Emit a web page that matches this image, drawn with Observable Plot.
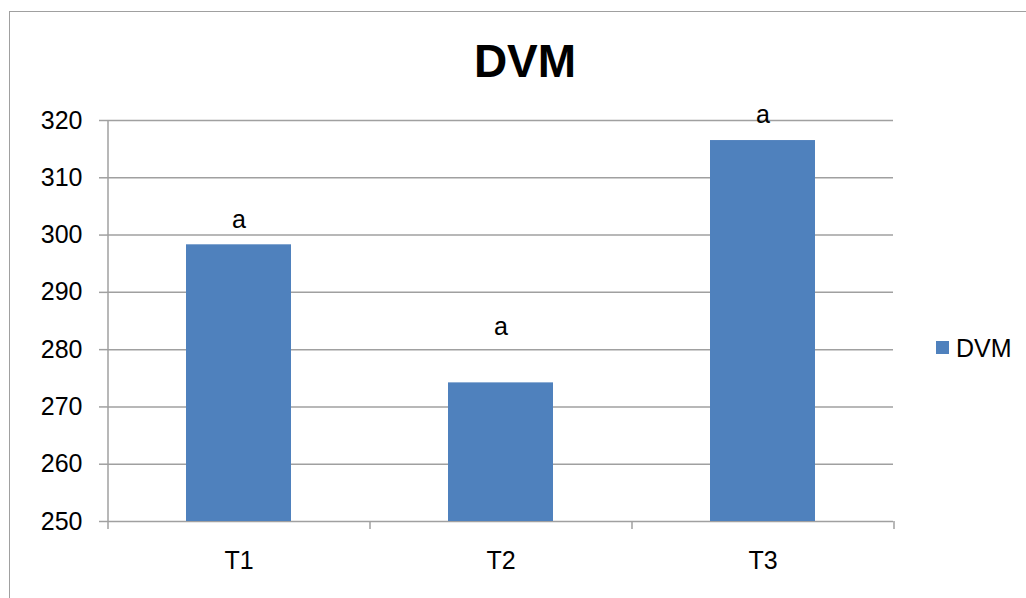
<!DOCTYPE html>
<html><head><meta charset="utf-8">
<script src="https://cdn.jsdelivr.net/npm/d3@7"></script>
<script src="https://cdn.jsdelivr.net/npm/@observablehq/plot@0.6"></script>
<style>
html,body{margin:0;padding:0;background:#fff;font-family:"Liberation Sans",Arial,sans-serif;overflow:hidden;}
#wrap{position:relative;width:1026px;height:598px;overflow:hidden;}
#border{position:absolute;left:9px;top:11px;width:3000px;height:3000px;border-left:1.5px solid #a0a0a0;border-top:1.5px solid #a0a0a0;}
#chart{position:absolute;left:0;top:0;}
#title{position:absolute;left:0;top:38px;width:1050px;text-align:center;font-weight:bold;font-size:46px;line-height:46px;color:#000;}
#swatch{position:absolute;left:936px;top:341px;width:13px;height:13px;background:#4F81BD;}
#legtext{position:absolute;left:956px;top:336px;font-size:25px;line-height:25px;color:#000;}
</style></head>
<body>
<div id="wrap">
  <div id="border"></div>
  <div id="chart"></div>
  <div id="title">DVM</div>
  <div id="swatch"></div>
  <div id="legtext">DVM</div>
</div>
<script>
const categories = ["T1", "T2", "T3"];
const values = [298.3, 274.2, 316.5];
const letters = ["a", "a", "a"];
const letterY = [301.3, 282.5, 319.5];
const yTicks = [250, 260, 270, 280, 290, 300, 310, 320];

const data = categories.map((c, i) => ({cat: c, value: values[i], letter: letters[i], ly: letterY[i]}));

const W = 1026, H = 598, ML = 107, MR = 133, MT = 120, MB = 77;
const step = (W - ML - MR) / categories.length;
const grid = "#a0a0a0";

const chart = Plot.plot({
  width: W, height: H,
  marginLeft: ML, marginRight: MR, marginTop: MT, marginBottom: MB,
  style: {fontFamily: "'Liberation Sans', Arial, sans-serif", fontSize: "25px", background: "transparent", color: "#000"},
  x: {domain: categories, paddingInner: 0.6, paddingOuter: 0.3},
  y: {domain: [250, 320]},
  marks: [
    Plot.ruleY(yTicks, {stroke: grid, strokeWidth: 1.5}),
    Plot.barY(data, {x: "cat", y1: 250, y2: "value", fill: "#4F81BD"}),
    Plot.text(data, {x: "cat", y: "ly", text: "letter", fontSize: 25, lineAnchor: "bottom", fill: "#000"}),
    // left axis line
    Plot.ruleX([categories[0]], {dx: -step / 2, stroke: grid, strokeWidth: 1.5}),
    // category boundary ticks
    Plot.ruleX(categories, {dx: -step / 2, y1: 250, y2: 250, insetBottom: -8, stroke: grid, strokeWidth: 1.5}),
    Plot.ruleX([categories[categories.length - 1]], {dx: step / 2, y1: 250, y2: 250, insetBottom: -8, stroke: grid, strokeWidth: 1.5}),
    Plot.axisY({ticks: yTicks, tickSize: 8, tickPadding: 17, fontSize: 25, stroke: grid, strokeWidth: 1.5, fill: "#000", label: null}),
    Plot.axisX({tickSize: 0, tickPadding: 30, fontSize: 25, fill: "#000", label: null})
  ]
});
document.getElementById("chart").appendChild(chart);
</script>
</body></html>
